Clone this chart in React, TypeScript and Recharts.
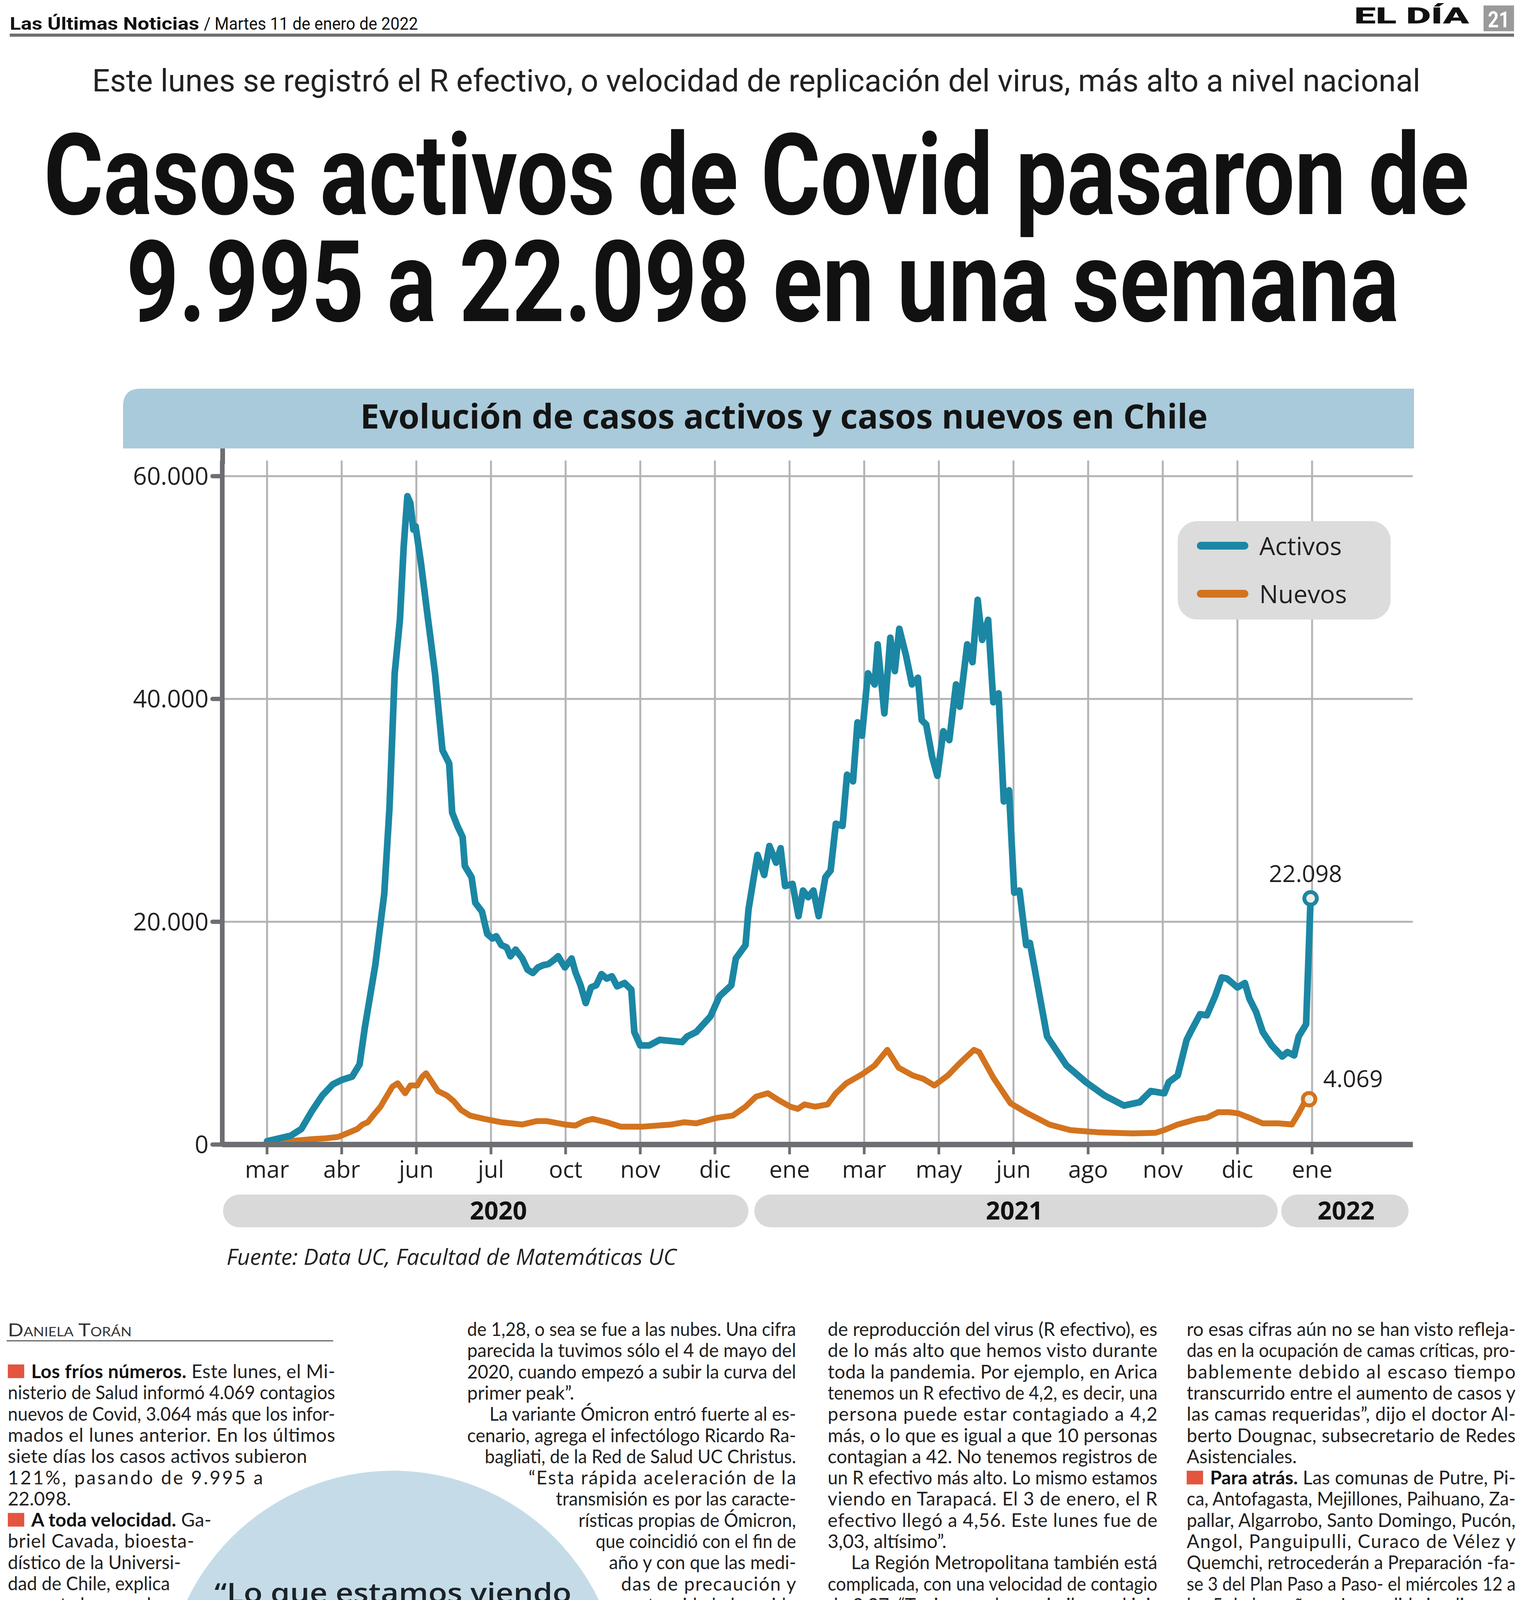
import React from 'react';
import { LineChart, Line, XAxis, YAxis, CartesianGrid, Legend, LabelList } from 'recharts';

// x = position on the month grid (0 = mar 2020 ... 14 = ene 2022)
const monthLabels = ['mar', 'abr', 'jun', 'jul', 'oct', 'nov', 'dic', 'ene', 'mar', 'may', 'jun', 'ago', 'nov', 'dic', 'ene'];
const monthTicks = monthLabels.map((_, i) => i);
const yTicks = [0, 20000, 40000, 60000];

const activosX = [
  0, 0.32, 0.46, 0.6, 0.74, 0.88, 1, 1.14, 1.24, 1.31, 1.45, 1.57, 1.64, 1.71, 1.78, 1.83, 1.88, 1.92, 1.96, 1.99,
  2.06, 2.15, 2.25, 2.35, 2.44, 2.48, 2.55, 2.62, 2.65, 2.74, 2.79, 2.88, 2.95, 3.02, 3.07, 3.14, 3.21, 3.26, 3.33, 3.42,
  3.49, 3.56, 3.63, 3.7, 3.77, 3.85, 3.9, 3.99, 4.08, 4.13, 4.2, 4.27, 4.34, 4.41, 4.48, 4.55, 4.62, 4.69, 4.79, 4.88,
  4.92, 5, 5.12, 5.26, 5.56, 5.63, 5.75, 5.94, 6.06, 6.22, 6.28, 6.41, 6.45, 6.57, 6.66, 6.73, 6.82, 6.88, 6.94, 7.04,
  7.12, 7.18, 7.25, 7.32, 7.39, 7.48, 7.55, 7.62, 7.71, 7.77, 7.85, 7.91, 7.97, 8.05, 8.14, 8.18, 8.27, 8.35, 8.41, 8.47,
  8.56, 8.64, 8.72, 8.77, 8.83, 8.91, 8.98, 9.06, 9.14, 9.23, 9.28, 9.38, 9.45, 9.52, 9.58, 9.66, 9.73, 9.8, 9.87, 9.94,
  10.01, 10.08, 10.17, 10.22, 10.45, 10.71, 10.97, 11.22, 11.48, 11.69, 11.84, 12.02, 12.08, 12.2, 12.32, 12.38, 12.5, 12.59, 12.7, 12.79,
  12.86, 13, 13.1, 13.16, 13.25, 13.34, 13.46, 13.6, 13.67, 13.76, 13.82, 13.92, 13.98,
];
const activosY = [
  300, 800, 1400, 3000, 4400, 5400, 5800, 6100, 7200, 10500, 16100, 22500, 30200, 42300, 47100, 53600, 58200, 57600, 55200, 55500,
  52300, 47500, 42300, 35400, 34200, 29800, 28600, 27600, 25000, 24000, 21700, 20900, 18900, 18500, 18700, 17900, 17700, 16900, 17500, 16700,
  15700, 15400, 15900, 16100, 16200, 16600, 16900, 15900, 16700, 15500, 14300, 12700, 14100, 14300, 15300, 14900, 15100, 14200, 14500, 13900,
  10100, 8900, 8900, 9400, 9200, 9700, 10100, 11500, 13300, 14300, 16700, 17900, 21100, 26000, 24200, 26800, 25300, 26600, 23200, 23400,
  20500, 22800, 22200, 22800, 20500, 24000, 24600, 28800, 28600, 33200, 32600, 37900, 36700, 42300, 41300, 44900, 38700, 45500, 42500, 46300,
  43900, 41300, 41900, 38100, 37700, 34800, 33100, 37100, 36300, 41300, 39300, 44900, 43300, 48900, 45300, 47100, 39700, 40500, 30800, 31800,
  22600, 22800, 17900, 18100, 9700, 7100, 5600, 4400, 3500, 3800, 4800, 4600, 5600, 6200, 9400, 10200, 11700, 11600, 13300, 15000,
  14900, 14100, 14500, 13100, 11900, 10100, 8900, 7900, 8300, 8000, 9700, 10800, 22098,
];

const nuevosX = [
  0, 0.32, 0.6, 0.79, 0.95, 1.07, 1.21, 1.28, 1.35, 1.42, 1.52, 1.59, 1.68, 1.75, 1.85, 1.92, 2.01, 2.08, 2.13, 2.2,
  2.29, 2.41, 2.5, 2.6, 2.72, 2.91, 3.14, 3.42, 3.61, 3.75, 3.99, 4.13, 4.25, 4.36, 4.55, 4.74, 5.02, 5.42, 5.59, 5.75,
  6.03, 6.24, 6.41, 6.55, 6.71, 6.85, 7.01, 7.11, 7.2, 7.34, 7.51, 7.62, 7.76, 7.97, 8.14, 8.31, 8.46, 8.65, 8.79, 8.94,
  9.12, 9.28, 9.47, 9.54, 9.73, 9.96, 10.19, 10.48, 10.76, 11.13, 11.6, 11.9, 12.02, 12.2, 12.47, 12.59, 12.74, 12.89, 13.01, 13.16,
  13.34, 13.55, 13.73, 13.82, 13.9, 13.96,
];
const nuevosY = [
  200, 320, 480, 560, 680, 1000, 1400, 1800, 2000, 2600, 3400, 4200, 5200, 5500, 4600, 5300, 5300, 6100, 6400, 5700,
  4800, 4400, 3900, 3100, 2600, 2300, 2000, 1800, 2100, 2100, 1800, 1700, 2100, 2300, 2000, 1600, 1600, 1800, 2000, 1900,
  2400, 2600, 3400, 4300, 4600, 4000, 3400, 3200, 3600, 3400, 3600, 4600, 5500, 6300, 7100, 8500, 6900, 6200, 5900, 5300,
  6200, 7300, 8500, 8300, 6000, 3700, 2800, 1800, 1300, 1100, 1000, 1050, 1300, 1800, 2300, 2400, 2900, 2900, 2800, 2400,
  1900, 1900, 1800, 2800, 3800, 4069,
];

const yearLabels = ['2020', '2021', '2022'];

const activos = activosX.map((x, i) => ({ x, y: activosY[i] }));
const nuevos = nuevosX.map((x, i) => ({ x, y: nuevosY[i] }));

const BLUE = '#1b87a4';
const ORANGE = '#d3731e';
const AXIS = '#6d6e71';
const INK = '#231f20';
const SANS = "'Open Sans', sans-serif";
const HEAD = 'Roboto, sans-serif';
const BODY = 'Lato, sans-serif';

const fmt = (v: number) => String(Math.round(v)).replace(/\B(?=(\d{3})+(?!\d))/g, '.');

// ---------- article text ----------
type Ln = { t: string; l?: number; r?: number; end?: boolean };
const LH = 54.3;
const BODY_SIZE = 48;

const columns: { l: number; r: number; top: number; lines: Ln[] }[] = [
  {
    l: 20, r: 858, top: 3528, lines: [
      { t: '■**Los fríos números.** Este lunes, el Mi-' },
      { t: 'nisterio de Salud informó 4.069 contagios' },
      { t: 'nuevos de Covid, 3.064 más que los infor-' },
      { t: 'mados el lunes anterior. En los últimos' },
      { t: 'siete días los casos activos subieron', r: 786 },
      { t: '121%, pasando de 9.995 a', r: 673 },
      { t: '22.098.', end: true },
      { t: '■**A toda velocidad.** Ga-', r: 541 },
      { t: 'briel Cavada, bioesta-', r: 497 },
      { t: 'dístico de la Universi-', r: 463 },
      { t: 'dad de Chile, explica', r: 435 },
      { t: 'que esta brusca al-', r: 404 },
      { t: 'za se debe a la', r: 396 },
      { t: 'gran velocidad de', r: 387 },
      { t: 'replicación que', r: 379 },
      { t: 'está teniendo el', r: 375 },
      { t: 'virus. Este lunes', r: 375 },
      { t: 'el R efectivo a ni-', r: 370 },
      { t: 'vel nacional -que', r: 387 },
      { t: 'mide la cantidad', r: 398 },
      { t: 'de personas a las', r: 418 },
      { t: 'que un contagiado le', r: 440 },
      { t: 'puede traspasar el vi-', r: 469 },
      { t: 'rus- fue de 2,16. Vale de-', r: 497 },
      { t: 'cir, cada contagiado se', r: 556 },
      { t: 'multiplicó por 2,16 en siete', r: 614 },
      { t: 'días. “La semana anterior el R fue', r: 696 },
    ],
  },
  {
    l: 1196, r: 2038, top: 3420, lines: [
      { t: 'de 1,28, o sea se fue a las nubes. Una cifra' },
      { t: 'parecida la tuvimos sólo el 4 de mayo del' },
      { t: '2020, cuando empezó a subir la curva del' },
      { t: 'primer peak”.', end: true },
      { t: 'La variante Ómicron entró fuerte al es-', l: 1253 },
      { t: 'cenario, agrega el infectólogo Ricardo Ra-' },
      { t: 'bagliati, de la Red de Salud UC Christus.', l: 1241 },
      { t: '“Esta rápida aceleración de la', l: 1353 },
      { t: 'transmisión es por las caracte-', l: 1423 },
      { t: 'rísticas propias de Ómicron,', l: 1481 },
      { t: 'que coincidió con el fin de', l: 1525 },
      { t: 'año y con que las medi-', l: 1559 },
      { t: 'das de precaución y', l: 1590 },
      { t: 'autocuidado han sido', l: 1610 },
      { t: 'menos que lo desea-', l: 1626 },
      { t: 'ble”.', l: 1638, end: true },
      { t: '■**Norte compli-**', l: 1647 },
      { t: '**cado.** Felipe Elo-', l: 1646 },
      { t: 'rrieta, jefe del Gru-', l: 1646 },
      { t: 'po Epidemiológico', l: 1642 },
      { t: 'Matemático de la', l: 1635 },
      { t: 'Universidad de San-', l: 1623 },
      { t: 'tiago, asegura que se', l: 1605 },
      { t: 'están dando valores', l: 1584 },
      { t: 'históricos de contagio.', l: 1552 },
      { t: '“Lo que estamos viendo', l: 1517 },
      { t: 'en el norte de Chile, el nivel', l: 1465 },
      { t: 'de incidencia (casos por cada', l: 1405 },
      { t: '100 mil habitantes) y la velocidad', l: 1323 },
    ],
  },
  {
    l: 2119, r: 2963, top: 3420, lines: [
      { t: 'de reproducción del virus (R efectivo), es' },
      { t: 'de lo más alto que hemos visto durante' },
      { t: 'toda la pandemia. Por ejemplo, en Arica' },
      { t: 'tenemos un R efectivo de 4,2, es decir, una' },
      { t: 'persona puede estar contagiado a 4,2' },
      { t: 'más, o lo que es igual a que 10 personas' },
      { t: 'contagian a 42. No tenemos registros de' },
      { t: 'un R efectivo más alto. Lo mismo estamos' },
      { t: 'viendo en Tarapacá. El 3 de enero, el R' },
      { t: 'efectivo llegó a 4,56. Este lunes fue de' },
      { t: '3,03, altísimo”.', end: true },
      { t: 'La Región Metropolitana también está', l: 2179 },
      { t: 'complicada, con una velocidad de contagio' },
      { t: 'de 2.37. “Tuvimos valores similares al ini-' },
      { t: 'cio de la primera ola, en mayo del 2020.' },
      { t: 'Desde ahí que no teníamos una velocidad' },
      { t: 'tan alta. Antofagasta, Valparaíso y Magalla-' },
      { t: 'nes también están complicadas. No recuer-' },
      { t: 'do haber visto alzas tan grandes y sincroni-' },
      { t: 'zadas en las otras olas”, dice Elorrieta.', end: true },
      { t: '■**UCI en baja.** El Minsal informó que 460' },
      { t: 'personas se encuentran hospitalizadas' },
      { t: 'por Covid-19 en unidades de cuidados in-' },
      { t: 'tensivos, mientras que hace siete días fue-' },
      { t: 'ron 511. “Esta cifra ha venido descendien-' },
      { t: 'do en el último mes, tendencia que espe-' },
      { t: 'ramos se mantenga o se estabilice. Es' },
      { t: 'cierto que ha existido un crecimiento ex-' },
      { t: 'ponencial del número de contagiados, pe-' },
    ],
  },
  {
    l: 3038, r: 3880, top: 3420, lines: [
      { t: 'ro esas cifras aún no se han visto refleja-' },
      { t: 'das en la ocupación de camas críticas, pro-' },
      { t: 'bablemente debido al escaso tiempo' },
      { t: 'transcurrido entre el aumento de casos y' },
      { t: 'las camas requeridas”, dijo el doctor Al-' },
      { t: 'berto Dougnac, subsecretario de Redes' },
      { t: 'Asistenciales.', end: true },
      { t: '■**Para atrás.** Las comunas de Putre, Pi-' },
      { t: 'ca, Antofagasta, Mejillones, Paihuano, Za-' },
      { t: 'pallar, Algarrobo, Santo Domingo, Pucón,' },
      { t: 'Angol, Panguipulli, Curaco de Vélez y' },
      { t: 'Quemchi, retrocederán a Preparación -fa-' },
      { t: 'se 3 del Plan Paso a Paso- el miércoles 12 a' },
      { t: 'las 5 de la mañana. La medida implica una' },
      { t: 'disminución en los aforos en el caso de' },
      { t: 'reuniones en casas particulares (máximo' },
      { t: 'de 10 personas y 25 si todas tienen Pase de' },
      { t: 'Movilidad. Lonquimay y Cochrane avanza-' },
      { t: 'rán a Apertura Inicial, mientras que la co-' },
      { t: 'muna de San Juan de la Costa, en Los La-' },
      { t: 'gos, avanzará a Preparación.', end: true },
      { t: '■**Cuarta dosis.** Este lunes, Chile se con-' },
      { t: 'virtió en el primer país de América Latina,' },
      { t: 'y segundo en el mundo después de Israel,' },
      { t: 'en aplicar una cuarta dosis de la vacuna' },
      { t: 'contra el Covid-19. El proceso partió con' },
      { t: 'las personas inmunocomprometidas que' },
      { t: 'hayan recibido su tercera dosis antes del' },
      { t: '12 de septiembre.', end: true },
    ],
  },
];

const quoteLines = [
  '“Lo que estamos viendo',
  'en el norte de Chile es lo',
  'más alto que hemos',
  'visto durante toda la',
  'pandemia”, dice el',
  'doctor en estadística',
  'Felipe Elorrieta',
];
const quoteWidths = [914, 941, 757, 778, 721, 794, 585];

let measureCtx: CanvasRenderingContext2D | null = null;
function measureFont(text: string, font: string, fallbackEm: number) {
  if (typeof document !== 'undefined') {
    if (!measureCtx) measureCtx = document.createElement('canvas').getContext('2d');
    if (measureCtx) {
      measureCtx.font = font;
      return measureCtx.measureText(text).width;
    }
  }
  return text.length * fallbackEm;
}
const measure = (text: string, bold: boolean) =>
  measureFont(text, `${bold ? 700 : 400} ${BODY_SIZE}px Lato`, BODY_SIZE * 0.47);

function BodyLine({ line, x0, x1, y }: { line: Ln; x0: number; x1: number; y: number }) {
  let t = line.t;
  const square = t.startsWith('■');
  if (square) t = t.slice(1);
  const tx = square ? x0 + 60 : x0;
  const parts = t.split('**');
  const natural = parts.reduce((s, p, i) => s + measure(p, i % 2 === 1), 0);
  const target = x1 - tx;
  const fit = line.end ? {} : { textLength: target, lengthAdjust: natural > target ? 'spacingAndGlyphs' : 'spacing' };
  return (
    <g>
      {square && <rect x={x0} y={y - 35} width={42} height={35} fill="#e4553f" />}
      <text x={tx} y={y} fontFamily={BODY} fontSize={BODY_SIZE} fill={INK} style={{ whiteSpace: 'pre' }} {...fit}>
        {parts.map((p, i) => (
          <tspan key={i} fontWeight={i % 2 === 1 ? 700 : 400} fill={i % 2 === 1 ? '#111' : INK}>{p}</tspan>
        ))}
      </text>
    </g>
  );
}

// text squeezed horizontally to a measured width (condensed newspaper faces)
function Fit(props: { x: number; y: number; w: number; size: number; weight?: number; family?: string; anchor?: 'start' | 'middle' | 'end'; fill?: string; italic?: boolean; children: string }) {
  const { x, y, w, size, weight = 400, family = HEAD, anchor = 'start', fill = '#111', italic, children } = props;
  const natural = measureFont(children, `${italic ? 'italic ' : ''}${weight} ${size}px ${family}`, size * 0.5);
  const sx = natural > 0 ? w / natural : 1;
  return (
    <text transform={`translate(${x},${y}) scale(${sx},1)`} x={0} y={0} fontSize={size} fontWeight={weight}
      fontFamily={family} textAnchor={anchor} fill={fill} fontStyle={italic ? 'italic' : undefined}>
      {children}
    </text>
  );
}

function Page() {
  return (
    <svg width={3899} height={4960} style={{ position: 'absolute', left: 0, top: 0 }}>
      {/* page header */}
      <Fit x={25} y={76} w={485} size={44} weight={700}>Las Últimas Noticias</Fit>
      <Fit x={522} y={76} w={548} size={44}>/ Martes 11 de enero de 2022</Fit>
      <Fit x={3467} y={60} w={294} size={58} weight={900}>EL DÍA</Fit>
      <rect x={3798} y={14} width={78} height={66} fill="#9a9a9a" />
      <Fit x={3837} y={70} w={56} size={58} weight={700} anchor="middle" fill="#fff">21</Fit>
      <rect x={25} y={86} width={3851} height={8} fill="#6f6f6f" />

      <Fit x={236} y={234} w={3401} size={80} fill="#222">Este lunes se registró el R efectivo, o velocidad de replicación del virus, más alto a nivel nacional</Fit>
      <Fit x={112} y={548} w={3649} size={290} weight={700}>Casos activos de Covid pasaron de</Fit>
      <Fit x={323} y={822} w={3259} size={290} weight={700}>9.995 a 22.098 en una semana</Fit>

      {/* chart banner */}
      <path d="M 315 1148 L 315 1040 Q 315 995 360 995 L 3620 995 L 3620 1148 Z" fill="#a8cadb" />
      <Fit x={2007} y={1097} w={2170} size={86} weight={700} family={SANS} anchor="middle" fill="#141414">Evolución de casos activos y casos nuevos en Chile</Fit>
      <rect x={564} y={1148} width={12} height={40} fill={AXIS} />

      {/* year bands */}
      <rect x={571} y={3058} width={1345} height={84} rx={42} fill="#d9d9d9" />
      <rect x={1931} y={3058} width={1340} height={84} rx={42} fill="#d9d9d9" />
      <rect x={3280} y={3058} width={326} height={84} rx={42} fill="#d9d9d9" />
      <text x={1276} y={3122} fontFamily={SANS} fontSize={64} fontWeight={700} fill="#111" textAnchor="middle">{yearLabels[0]}</text>
      <text x={2597} y={3122} fontFamily={SANS} fontSize={64} fontWeight={700} fill="#111" textAnchor="middle">{yearLabels[1]}</text>
      <text x={3446} y={3122} fontFamily={SANS} fontSize={64} fontWeight={700} fill="#111" textAnchor="middle">{yearLabels[2]}</text>

      <Fit x={580} y={3238} w={1152} size={56} italic family={SANS} fill="#222">Fuente: Data UC, Facultad de Matemáticas UC</Fit>

      {/* byline */}
      <text x={20} y={3421} fontFamily={BODY} fontSize={46} fontVariant="small-caps" fill="#333" textLength={317} lengthAdjust="spacingAndGlyphs">Daniela Torán</text>
      <rect x={17} y={3431} width={836} height={3} fill="#666" />

      {/* quote circle */}
      <circle cx={1006} cy={4350} r={585} fill="#c5dce8" />
      {quoteLines.map((q, i) => (
        <Fit key={i} x={1006} y={4102 + i * 108.3} w={quoteWidths[i]} size={68} weight={600} family={SANS} anchor="middle" fill="#1b2328">{q}</Fit>
      ))}

      {columns.map((c, ci) =>
        c.lines.map((ln, i) => (
          <BodyLine key={`${ci}-${i}`} line={ln} x0={ln.l ?? c.l} x1={ln.r ?? c.r} y={c.top + i * LH} />
        ))
      )}
    </svg>
  );
}

const endDot = (n: number, color: string) => (p: any) =>
  p.index === n - 1
    ? <circle key={`d${p.index}`} cx={p.cx} cy={p.cy} r={16} fill="#f3ece4" stroke={color} strokeWidth={10} />
    : <g key={`d${p.index}`} />;

const endLabel = (n: number, side: 'above' | 'right') => (p: any) => {
  if (p.index !== n - 1) return null;
  const x = Number(p.x);
  const y = Number(p.y);
  return side === 'above'
    ? <text x={x - 13} y={y - 42} textAnchor="middle" fontFamily={SANS} fontSize={60} fill={INK}>{fmt(Number(p.value))}</text>
    : <text x={x + 36} y={y - 31} textAnchor="start" fontFamily={SANS} fontSize={60} fill={INK}>{fmt(Number(p.value))}</text>;
};

const renderLegend = (props: any) => {
  const items = (props.payload || []) as any[];
  return (
    <div style={{ position: 'relative', width: 545, height: 252, background: '#dcdcdc', borderRadius: 50 }}>
      {items.map((it, i) => (
        <div key={i}>
          <div style={{ position: 'absolute', left: 49, top: (i === 0 ? 63 : 186) - 10, width: 132, height: 20, borderRadius: 10, background: it.color }} />
          <div style={{ position: 'absolute', left: 209, top: (i === 0 ? 63 : 186) - 44, fontFamily: SANS, fontSize: 64, lineHeight: '88px', color: INK }}>{it.value}</div>
        </div>
      ))}
    </div>
  );
};

function CovidChart() {
  return (
    <LineChart width={3899} height={2000} margin={{ top: 79, right: 282, bottom: 70, left: 369 }}>
      {/* syncWithTicks: gridlines only at the tick values, no frame at the plot edges */}
      <CartesianGrid stroke="#b4b4b4" strokeWidth={5} syncWithTicks />
      <XAxis
        type="number" dataKey="x" domain={[-0.6, 15.35]} ticks={monthTicks} interval={0} allowDataOverflow
        tickFormatter={(v: number) => monthLabels[Math.round(v)]} height={100}
        axisLine={{ stroke: AXIS, strokeWidth: 14 }} tickLine={{ stroke: AXIS, strokeWidth: 7 }}
        tickSize={25} tickMargin={17} tick={{ fontSize: 60, fill: INK, fontFamily: SANS }}
      />
      <YAxis
        type="number" domain={[0, 61400]} ticks={yTicks} interval={0} allowDataOverflow width={200}
        tickFormatter={fmt} axisLine={{ stroke: AXIS, strokeWidth: 12 }}
        tickLine={{ stroke: AXIS, strokeWidth: 11, strokeLinecap: 'round' }}
        tickSize={25} tickMargin={10} tick={{ fontSize: 62, fill: INK, fontFamily: SANS }}
      />
      <Legend
        layout="horizontal" verticalAlign="middle" align="center" content={renderLegend}
        wrapperStyle={{ position: 'absolute', left: 3015, top: 234, width: 545, height: 252 }}
      />
      <Line data={nuevos} dataKey="y" name="Nuevos" type="linear" stroke={ORANGE} strokeWidth={15}
        strokeLinejoin="round" strokeLinecap="round" dot={endDot(nuevos.length, ORANGE)} activeDot={false} isAnimationActive={false} legendType="line">
        <LabelList dataKey="y" content={endLabel(nuevos.length, 'right')} />
      </Line>
      <Line data={activos} dataKey="y" name="Activos" type="linear" stroke={BLUE} strokeWidth={17}
        strokeLinejoin="round" strokeLinecap="round" dot={endDot(activos.length, BLUE)} activeDot={false} isAnimationActive={false} legendType="line">
        <LabelList dataKey="y" content={endLabel(activos.length, 'above')} />
      </Line>
    </LineChart>
  );
}

export default function App() {
  return (
    <div style={{ position: 'relative', width: 3899, height: 4960, margin: -8, background: '#fff', overflow: 'hidden' }}>
      <Page />
      <div style={{ position: 'absolute', left: 0, top: 1100 }}>
        <CovidChart />
      </div>
    </div>
  );
}
